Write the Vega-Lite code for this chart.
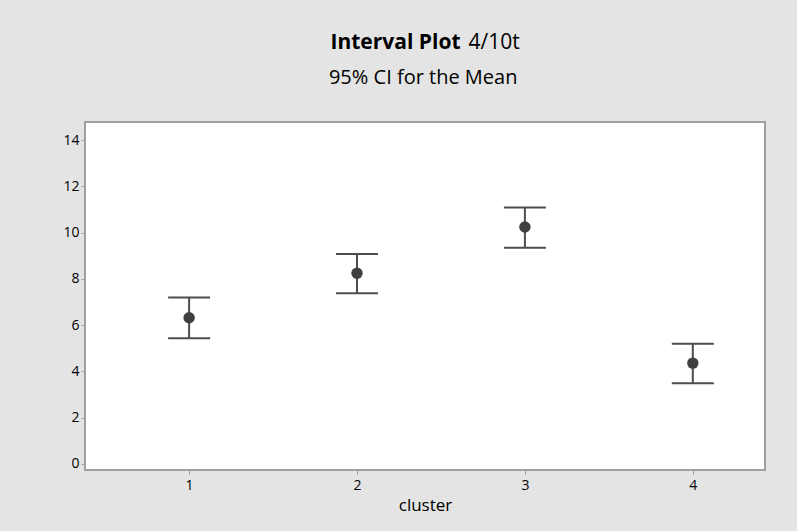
{
  "$schema": "https://vega.github.io/schema/vega-lite/v6.json",
  "width": 680,
  "height": 348,
  "autosize": {"type": "none"},
  "padding": {"left": 85, "top": 122, "right": 32, "bottom": 61},
  "background": "#e4e4e4",
  "config": {
    "view": {"fill": "#ffffff", "stroke": "#a0a0a0", "strokeWidth": 2},
    "axis": {
      "font": "Open Sans",
      "labelFont": "Open Sans",
      "titleFont": "Open Sans",
      "labelColor": "#000000",
      "titleColor": "#000000",
      "domain": false,
      "grid": false,
      "tickColor": "#a0a0a0",
      "tickSize": 4,
      "labelFontSize": 14
    }
  },
  "data": {
    "values": [
      {"cluster": 1, "mean": 6.32, "lower": 5.43, "upper": 7.19},
      {"cluster": 2, "mean": 8.24, "lower": 7.38, "upper": 9.07},
      {"cluster": 3, "mean": 10.24, "lower": 9.35, "upper": 11.09},
      {"cluster": 4, "mean": 4.36, "lower": 3.49, "upper": 5.2}
    ]
  },
  "resolve": {"axis": {"x": "independent", "y": "independent"}},
  "layer": [
    {
      "mark": {"type": "rule", "stroke": "#4d4d4d", "strokeWidth": 2},
      "encoding": {
        "x": {
          "field": "cluster",
          "type": "quantitative",
          "scale": {"domain": [0.38, 4.43], "nice": false, "zero": false},
          "axis": {
            "values": [1, 2, 3, 4],
            "format": "d",
            "labelPadding": 4,
            "title": "cluster",
            "titleFontSize": 17,
            "titleFontWeight": "normal",
            "titlePadding": 5
          }
        },
        "y": {
          "field": "lower",
          "type": "quantitative",
          "scale": {"domain": [-0.26, 14.78], "nice": false, "zero": false},
          "axis": {
            "values": [0, 2, 4, 6, 8, 10, 12, 14],
            "labelPadding": 2,
            "title": null
          }
        },
        "y2": {"field": "upper"}
      }
    },
    {
      "mark": {"type": "tick", "orient": "horizontal", "size": 42, "thickness": 2, "color": "#4d4d4d", "opacity": 1},
      "encoding": {
        "x": {
          "field": "cluster",
          "type": "quantitative",
          "axis": {
            "orient": "top",
            "labels": false,
            "ticks": false,
            "title": "Interval Plot",
            "titleFontSize": 21,
            "titleFontWeight": "bold",
            "titleAlign": "left",
            "titleBaseline": "alphabetic",
            "titleAngle": 0,
            "titleX": 245,
            "titleY": -73.7
          }
        },
        "y": {
          "field": "upper",
          "type": "quantitative",
          "axis": {
            "orient": "right",
            "labels": false,
            "ticks": false,
            "title": "4/10t",
            "titleFontSize": 21,
            "titleFontWeight": "normal",
            "titleAlign": "left",
            "titleBaseline": "alphabetic",
            "titleAngle": 0,
            "titleX": -297,
            "titleY": -73.7
          }
        }
      }
    },
    {
      "mark": {"type": "tick", "orient": "horizontal", "size": 42, "thickness": 2, "color": "#4d4d4d", "opacity": 1},
      "encoding": {
        "x": {
          "field": "cluster",
          "type": "quantitative",
          "axis": {
            "orient": "top",
            "labels": false,
            "ticks": false,
            "title": "95% CI for the Mean",
            "titleFontSize": 20,
            "titleFontWeight": "normal",
            "titleAlign": "center",
            "titleBaseline": "alphabetic",
            "titleAngle": 0,
            "titleX": 337.7,
            "titleY": -38.7
          }
        },
        "y": {"field": "lower", "type": "quantitative", "axis": null}
      }
    },
    {
      "mark": {"type": "point", "filled": true, "size": 130, "color": "#3f3f3f", "opacity": 1},
      "encoding": {
        "x": {"field": "cluster", "type": "quantitative", "axis": null},
        "y": {"field": "mean", "type": "quantitative", "axis": null}
      }
    }
  ]
}
